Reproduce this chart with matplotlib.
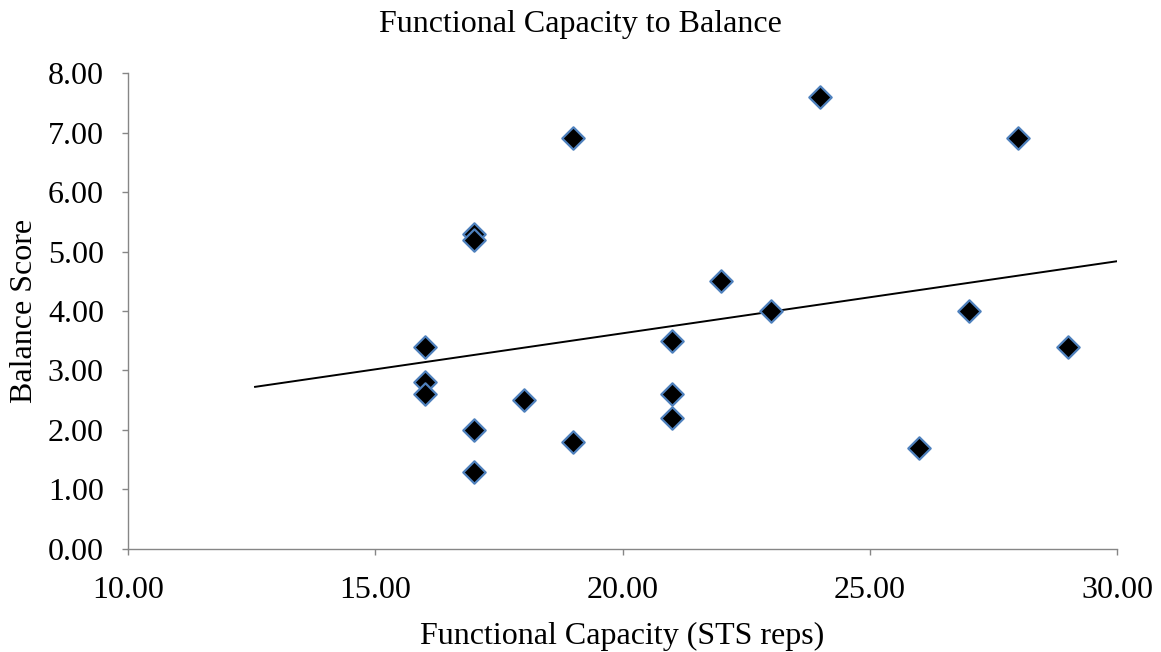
import matplotlib
matplotlib.use("Agg")
import matplotlib.pyplot as plt
import numpy as np

plt.rcParams['font.family'] = ['Liberation Serif', 'DejaVu Serif']

sts_reps = [16, 16, 16, 17, 17, 17, 17, 18, 19, 19, 21, 21, 21, 22, 23, 24, 26, 27, 28, 29]
balance = [3.4, 2.8, 2.6, 5.3, 5.2, 2.0, 1.3, 2.5, 6.9, 1.8, 3.5, 2.6, 2.2, 4.5, 4.0, 7.6, 1.7, 4.0, 6.9, 3.4]
x_ticks = [10, 15, 20, 25, 30]
y_ticks = [0, 1, 2, 3, 4, 5, 6, 7, 8]

fig = plt.figure(figsize=(11.61, 6.52), dpi=100)
ax = fig.add_axes([0.1102, 0.158, 0.852, 0.730])

x = np.array(sts_reps, dtype=float)
y = np.array(balance, dtype=float)
slope, intercept = np.polyfit(x, y, 1)
xl = np.array([12.57, 30.0])
ax.plot(xl, slope * xl + intercept, color='black', lw=1.4, zorder=2)

ax.scatter(x, y, marker='D', s=130, facecolor='black', edgecolor='#4f81bd', linewidth=1.6, zorder=3)

ax.set_xlim(10, 30)
ax.set_ylim(0, 8)
ax.set_xticks(x_ticks)
ax.set_yticks(y_ticks)
ax.set_xticklabels([f"{v:.2f}" for v in x_ticks])
ax.set_yticklabels([f"{v:.2f}" for v in y_ticks])
ax.tick_params(axis='both', labelsize=23, direction='out', length=4.5, color='#868686', width=1)
ax.tick_params(axis='y', pad=12.8)
ax.tick_params(axis='x', pad=15)
for s in ['top', 'right']:
    ax.spines[s].set_visible(False)
for s in ['left', 'bottom']:
    ax.spines[s].set_color('#868686')
    ax.spines[s].set_linewidth(1)

ax.set_xlabel('Functional Capacity (STS reps)', fontsize=23, labelpad=12)
ax.set_ylabel('Balance Score', fontsize=23, labelpad=6.5)
fig.text(0.5, 0.962, 'Functional Capacity to Balance', ha='center', va='center', fontsize=23)

fig.savefig('out.png', dpi=100)
